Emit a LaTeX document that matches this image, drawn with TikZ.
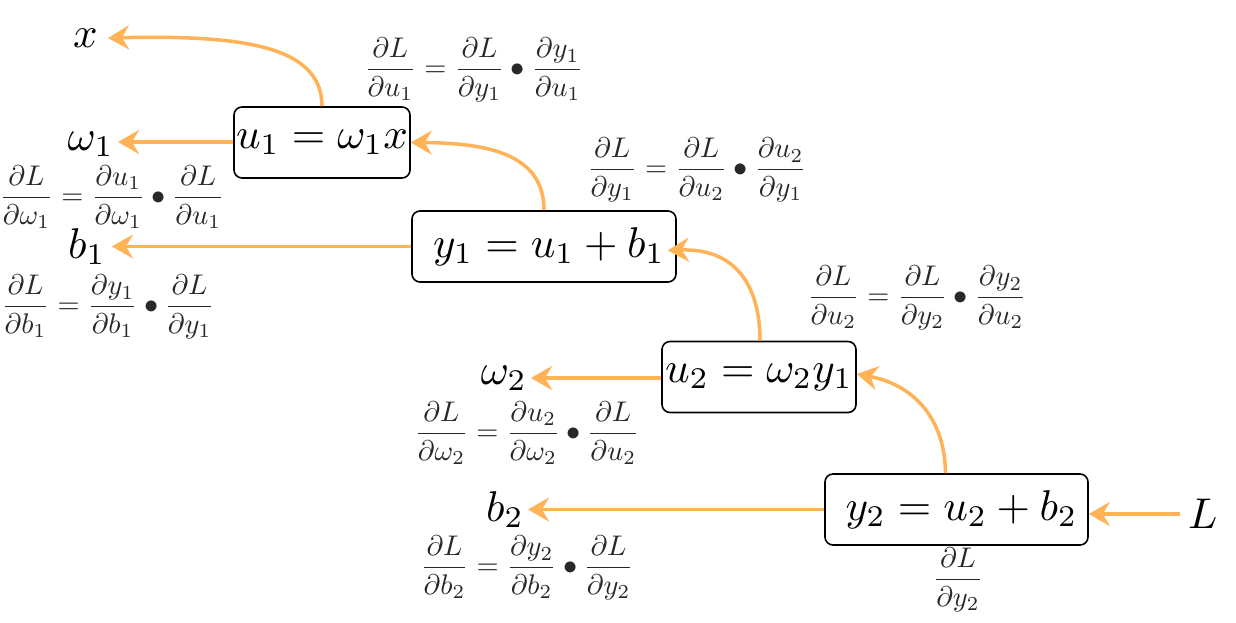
\documentclass[tikz,border=0pt]{standalone}
\usepackage{graphicx}
\usepackage{amsmath}
\usetikzlibrary{arrows.meta}
\definecolor{flow}{RGB}{255,178,86}
\definecolor{gradink}{RGB}{40,40,40}
\newcommand{\opmath}[1]{\scalebox{4.3}{$#1$}}
\newcommand{\gradmath}[1]{\scalebox{2.84}{$\displaystyle #1$}}
\tikzset{
  opbox/.style={draw=black, line width=1.6pt, rounded corners=8pt, minimum height=71pt, inner sep=0pt},
  varlab/.style={inner sep=0pt},
  grad/.style={inner sep=0pt, text=gradink},
  back/.style={draw=flow, line width=3.5pt, -{Stealth[length=21pt,width=24pt,inset=7pt]}},
}
\begin{document}
\begin{tikzpicture}[x=1pt,y=-1pt]
\path[use as bounding box] (0,0) rectangle (1236,622);
% boxes
\node[opbox, minimum width=176pt] (b1) at (322,142.5) {\opmath{u_1=\omega_1x}};
\node[opbox, minimum width=264pt] (b2) at (544,246.5) {\hspace*{10pt}\opmath{y_1=u_1+b_1}};
\node[opbox, minimum width=194pt] (b3) at (759,377) {\opmath{u_2=\omega_2y_1}};
\node[opbox, minimum width=263pt] (b4) at (956.5,509.5) {\hspace*{10pt}\opmath{y_2=u_2+b_2}};
% variable labels
\node[varlab, anchor=east] (x) at (98,38) {\opmath{x}};
\node[varlab, anchor=east] (w1) at (114,144) {\opmath{\omega_1}};
\node[varlab, anchor=east] (bb1) at (106,246.5) {\opmath{b_1}};
\node[varlab, anchor=east] (w2) at (527,378) {\opmath{\omega_2}};
\node[varlab, anchor=east] (bb2) at (524,509.5) {\opmath{b_2}};
\node[varlab, anchor=west] (L) at (1188,514) {\opmath{L}};
% connectors
\draw[back] (b1.north) .. controls (322,45) and (240,35) .. ([xshift=10pt]x.east);
\draw[back] ([yshift=2pt]b1.west |- w1) -- ([xshift=4pt,yshift=2pt]w1.east);
\draw[back] (b2.north) .. controls (544,155) and (490,143) .. (b1.east);
\draw[back] (b2.west) -- ([xshift=6pt]bb1.east);
\draw[back] ([xshift=1pt]b3.north) .. controls (760,285) and (735,248) .. ([xshift=-9pt,yshift=-4pt]b2.east);
\draw[back] (b3.west |- w2) -- ([xshift=4pt]w2.east);
\draw[back] ([xshift=-11pt]b4.north) .. controls (945,420) and (915,385) .. ([yshift=3pt]b3.east);
\draw[back] (b4.west) -- ([xshift=4pt]bb2.east);
\draw[back] ([xshift=-8pt]L.west) -- (b4.east |- L);
% gradient formulas
\node[grad] (g1) at (474,70) {\gradmath{\frac{\partial L}{\partial u_1}=\frac{\partial L}{\partial y_1}\bullet\frac{\partial y_1}{\partial u_1}}};
\node[grad] (g2) at (112,197) {\gradmath{\frac{\partial L}{\partial \omega_1}=\frac{\partial u_1}{\partial \omega_1}\bullet\frac{\partial L}{\partial u_1}}};
\node[grad] (g3) at (697,170) {\gradmath{\frac{\partial L}{\partial y_1}=\frac{\partial L}{\partial u_2}\bullet\frac{\partial u_2}{\partial y_1}}};
\node[grad] (g4) at (108,307) {\gradmath{\frac{\partial L}{\partial b_1}=\frac{\partial y_1}{\partial b_1}\bullet\frac{\partial L}{\partial y_1}}};
\node[grad] (g5) at (917,298) {\gradmath{\frac{\partial L}{\partial u_2}=\frac{\partial L}{\partial y_2}\bullet\frac{\partial y_2}{\partial u_2}}};
\node[grad] (g6) at (527,433) {\gradmath{\frac{\partial L}{\partial \omega_2}=\frac{\partial u_2}{\partial \omega_2}\bullet\frac{\partial L}{\partial u_2}}};
\node[grad] (g7) at (527,568) {\gradmath{\frac{\partial L}{\partial b_2}=\frac{\partial y_2}{\partial b_2}\bullet\frac{\partial L}{\partial y_2}}};
\node[grad] (g8) at (958,580) {\gradmath{\frac{\partial L}{\partial y_2}}};
\end{tikzpicture}
\end{document}
